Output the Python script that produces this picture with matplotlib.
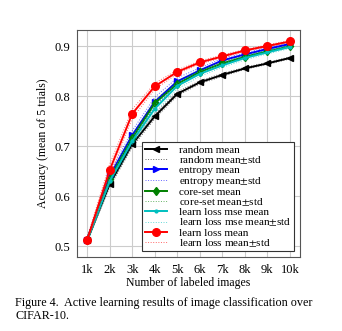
import numpy as np
import matplotlib
matplotlib.use('Agg')
import matplotlib.pyplot as plt

plt.rcParams['font.family'] = ['Liberation Serif', 'DejaVu Serif']
plt.rcParams['mathtext.fontset'] = 'stix'

# number of labeled images (k)
n_labeled = [1, 2, 3, 4, 5, 6, 7, 8, 9, 10]
tick_labels = ['1k', '2k', '3k', '4k', '5k', '6k', '7k', '8k', '9k', '10k']

random_mean = [0.512, 0.624, 0.704, 0.760, 0.805, 0.828, 0.843, 0.856, 0.866, 0.877]
random_std = [0.004, 0.006, 0.006, 0.005, 0.004, 0.003, 0.003, 0.002, 0.002, 0.002]
entropy_mean = [0.513, 0.640, 0.722, 0.789, 0.830, 0.852, 0.872, 0.884, 0.895, 0.905]
entropy_std = [0.004, 0.007, 0.009, 0.009, 0.007, 0.005, 0.004, 0.003, 0.003, 0.002]
coreset_mean = [0.512, 0.634, 0.716, 0.786, 0.825, 0.849, 0.866, 0.879, 0.890, 0.900]
coreset_std = [0.004, 0.006, 0.007, 0.006, 0.005, 0.004, 0.003, 0.003, 0.002, 0.002]
mse_mean = [0.511, 0.630, 0.710, 0.775, 0.821, 0.845, 0.862, 0.877, 0.888, 0.899]
mse_std = [0.005, 0.007, 0.007, 0.007, 0.006, 0.005, 0.004, 0.004, 0.003, 0.003]
ll_mean = [0.512, 0.652, 0.765, 0.820, 0.849, 0.868, 0.880, 0.892, 0.901, 0.910]
ll_std = [0.005, 0.012, 0.009, 0.006, 0.004, 0.003, 0.003, 0.002, 0.002, 0.002]

series = [
    ('random', random_mean, random_std, 'k', '<', 4.5),
    ('entropy', entropy_mean, entropy_std, 'b', '>', 4.5),
    ('core-set', coreset_mean, coreset_std, 'g', 'd', 4.5),
    ('learn loss mse', mse_mean, mse_std, 'c', '.', 4),
    ('learn loss', ll_mean, ll_std, 'r', 'o', 5.5),
]

fig = plt.figure(figsize=(3.42, 3.31), dpi=100)
ax = fig.add_axes([77/342, 1-257/331, 223/342, 227/331])

x = np.array(n_labeled)
for name, m, s, c, mk, ms in series:
    m = np.array(m)
    s = np.array(s)
    ax.plot(x, m, color=c, marker=mk, markersize=ms, lw=1.4, label=name + ' mean')
    ax.plot(x, m + s, color=c, ls=':', lw=0.7, alpha=0.6, label=name + ' mean$\\pm$std')
    ax.plot(x, m - s, color=c, ls=':', lw=0.7, alpha=0.6)

ax.set_xlim(0.55, 10.45)
ax.set_ylim(0.478, 0.933)
ax.set_xticks(x)
ax.set_xticklabels(tick_labels)
ax.set_yticks([0.5, 0.6, 0.7, 0.8, 0.9])
ax.tick_params(labelsize=9, length=0, pad=5)
ax.grid(True, color='#cccccc', lw=0.8)
for sp in ax.spines.values():
    sp.set_color('#555555')
    sp.set_linewidth(0.8)
ax.set_xlabel('Number of labeled images', fontsize=8.5, labelpad=1)
ax.set_ylabel('Accuracy (mean of 5 trials)', fontsize=8.5, labelpad=4)

leg = ax.legend(loc='lower right', fontsize=8, frameon=True, fancybox=False,
                framealpha=1, edgecolor='#333333', handlelength=2.0,
                labelspacing=-0.05, borderpad=0.25, handletextpad=1.1,
                borderaxespad=0.5)
leg.get_frame().set_linewidth(0.8)

fig.text(15/342, 1-303/331, 'Figure 4.  Active learning results of image classification over',
         fontsize=8.7, va='center', ha='left')
fig.text(15/342, 1-316/331, 'CIFAR-10.', fontsize=8.7, va='center', ha='left')

fig.savefig('out.png', dpi=100)
